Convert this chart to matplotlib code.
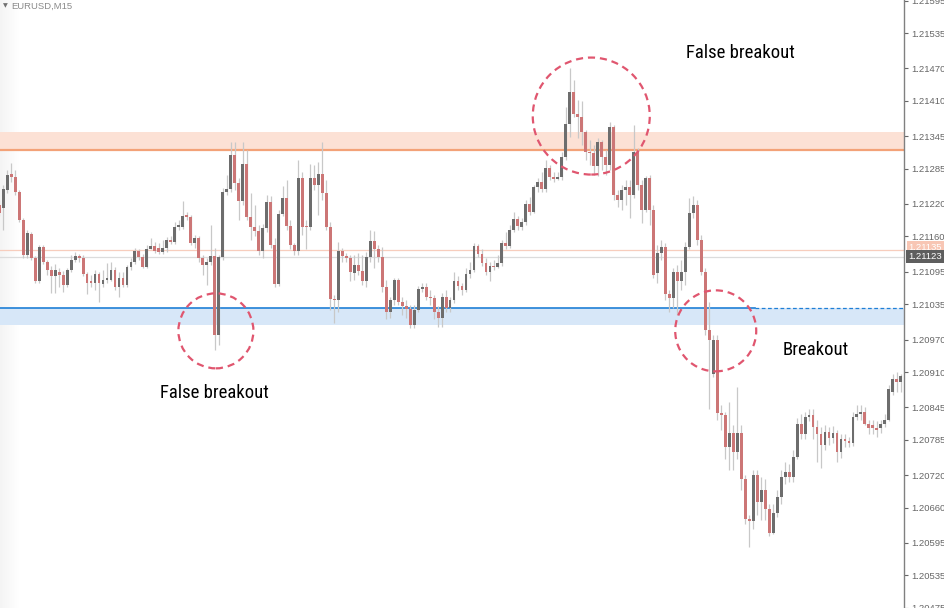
import numpy as np
import matplotlib
matplotlib.use("Agg")
import matplotlib.pyplot as plt
from matplotlib.patches import Circle
from matplotlib.transforms import ScaledTranslation, blended_transform_factory

# EURUSD M15 candles
opens = [
    1.21218, 1.21213, 1.21246, 1.21275, 1.21270, 1.21242, 1.21191, 1.21126, 1.21165, 1.21121,
    1.21078, 1.21141, 1.21113, 1.21099, 1.21088, 1.21095, 1.21089, 1.21071, 1.21099, 1.21117,
    1.21124, 1.21121, 1.21091, 1.21078, 1.21075, 1.21091, 1.21073, 1.21080, 1.21080, 1.21099,
    1.21066, 1.21084, 1.21071, 1.21104, 1.21113, 1.21134, 1.21123, 1.21104, 1.21137, 1.21143,
    1.21139, 1.21132, 1.21139, 1.21154, 1.21150, 1.21178, 1.21178, 1.21200, 1.21196, 1.21148,
    1.21158, 1.21121, 1.21108, 1.21113, 1.21124, 1.20979, 1.21123, 1.21242, 1.21248, 1.21310,
    1.21259, 1.21226, 1.21294, 1.21196, 1.21178, 1.21170, 1.21134, 1.21176, 1.21224, 1.21145,
    1.21073, 1.21202, 1.21231, 1.21180, 1.21145, 1.21134, 1.21268, 1.21180, 1.21178, 1.21268,
    1.21255, 1.21275, 1.21240, 1.21178, 1.21045, 1.21043, 1.21134, 1.21124, 1.21121, 1.21093,
    1.21108, 1.21097, 1.21077, 1.21123, 1.21152, 1.21137, 1.21123, 1.21066, 1.21020, 1.21042,
    1.21080, 1.21040, 1.21032, 1.21027, 1.20997, 1.21025, 1.21064, 1.21067, 1.21049, 1.21047,
    1.21020, 1.21010, 1.21049, 1.21029, 1.21043, 1.21077, 1.21069, 1.21062, 1.21091, 1.21099,
    1.21143, 1.21128, 1.21112, 1.21095, 1.21106, 1.21104, 1.21112, 1.21148, 1.21143, 1.21172,
    1.21193, 1.21178, 1.21187, 1.21220, 1.21206, 1.21252, 1.21261, 1.21248, 1.21287, 1.21270,
    1.21266, 1.21270, 1.21307, 1.21368, 1.21427, 1.21386, 1.21381, 1.21353, 1.21316, 1.21314,
    1.21290, 1.21334, 1.21307, 1.21292, 1.21362, 1.21237, 1.21228, 1.21246, 1.21252, 1.21237,
    1.21316, 1.21255, 1.21209, 1.21268, 1.21209, 1.21093, 1.21130, 1.21141, 1.21054, 1.21047,
    1.21095, 1.21077, 1.21095, 1.21141, 1.21204, 1.21218, 1.21154, 1.21095, 1.20988, 1.20907,
    1.20970, 1.20835, 1.20830, 1.20771, 1.20798, 1.20762, 1.20798, 1.20712, 1.20640, 1.20636,
    1.20721, 1.20670, 1.20693, 1.20657, 1.20614, 1.20651, 1.20679, 1.20717, 1.20725, 1.20717,
    1.20754, 1.20815, 1.20795, 1.20828, 1.20830, 1.20808, 1.20795, 1.20776, 1.20800, 1.20789,
    1.20798, 1.20762, 1.20786, 1.20782, 1.20780, 1.20828, 1.20832, 1.20837, 1.20815, 1.20813,
    1.20806, 1.20806, 1.20815, 1.20822, 1.20874, 1.20898, 1.20891,
]
highs = [
    1.21228, 1.21255, 1.21283, 1.21296, 1.21283, 1.21246, 1.21194, 1.21172, 1.21169, 1.21124,
    1.21145, 1.21145, 1.21117, 1.21106, 1.21110, 1.21102, 1.21097, 1.21102, 1.21126, 1.21132,
    1.21128, 1.21126, 1.21095, 1.21089, 1.21099, 1.21095, 1.21099, 1.21112, 1.21113, 1.21104,
    1.21095, 1.21095, 1.21108, 1.21121, 1.21139, 1.21137, 1.21128, 1.21145, 1.21158, 1.21150,
    1.21148, 1.21154, 1.21159, 1.21161, 1.21187, 1.21191, 1.21226, 1.21206, 1.21200, 1.21163,
    1.21161, 1.21126, 1.21121, 1.21182, 1.21139, 1.21126, 1.21250, 1.21274, 1.21334, 1.21334,
    1.21268, 1.21334, 1.21320, 1.21240, 1.21218, 1.21182, 1.21183, 1.21237, 1.21235, 1.21158,
    1.21209, 1.21253, 1.21264, 1.21191, 1.21148, 1.21301, 1.21279, 1.21191, 1.21294, 1.21292,
    1.21298, 1.21334, 1.21264, 1.21187, 1.21053, 1.21150, 1.21139, 1.21130, 1.21126, 1.21126,
    1.21130, 1.21126, 1.21132, 1.21172, 1.21170, 1.21145, 1.21141, 1.21080, 1.21049, 1.21084,
    1.21084, 1.21049, 1.21043, 1.21034, 1.21034, 1.21069, 1.21075, 1.21075, 1.21062, 1.21053,
    1.21032, 1.21056, 1.21062, 1.21049, 1.21095, 1.21088, 1.21075, 1.21102, 1.21113, 1.21148,
    1.21147, 1.21136, 1.21121, 1.21113, 1.21117, 1.21126, 1.21154, 1.21169, 1.21182, 1.21206,
    1.21198, 1.21194, 1.21228, 1.21233, 1.21255, 1.21268, 1.21279, 1.21301, 1.21292, 1.21279,
    1.21279, 1.21316, 1.21399, 1.21471, 1.21449, 1.21412, 1.21410, 1.21357, 1.21338, 1.21329,
    1.21342, 1.21338, 1.21320, 1.21371, 1.21366, 1.21246, 1.21255, 1.21264, 1.21264, 1.21366,
    1.21323, 1.21264, 1.21272, 1.21274, 1.21218, 1.21145, 1.21154, 1.21148, 1.21062, 1.21102,
    1.21108, 1.21117, 1.21150, 1.21231, 1.21235, 1.21228, 1.21163, 1.21102, 1.21040, 1.20979,
    1.20979, 1.20850, 1.20837, 1.20854, 1.20813, 1.20883, 1.20813, 1.20721, 1.20647, 1.20730,
    1.20730, 1.20716, 1.20712, 1.20666, 1.20666, 1.20693, 1.20730, 1.20745, 1.20740, 1.20767,
    1.20826, 1.20832, 1.20837, 1.20841, 1.20841, 1.20822, 1.20808, 1.20813, 1.20808, 1.20811,
    1.20804, 1.20795, 1.20795, 1.20791, 1.20837, 1.20850, 1.20850, 1.20845, 1.20822, 1.20822,
    1.20819, 1.20822, 1.20832, 1.20887, 1.20907, 1.20911, 1.20907,
]
lows = [
    1.21198, 1.21172, 1.21240, 1.21261, 1.21237, 1.21187, 1.21121, 1.21121, 1.21117, 1.21075,
    1.21075, 1.21110, 1.21089, 1.21056, 1.21056, 1.21066, 1.21058, 1.21067, 1.21095, 1.21113,
    1.21113, 1.21088, 1.21054, 1.21066, 1.21062, 1.21040, 1.21067, 1.21075, 1.21077, 1.21062,
    1.21049, 1.21067, 1.21067, 1.21099, 1.21110, 1.21117, 1.21102, 1.21102, 1.21136, 1.21130,
    1.21128, 1.21128, 1.21132, 1.21147, 1.21147, 1.21172, 1.21174, 1.21191, 1.21145, 1.21139,
    1.21113, 1.21089, 1.21071, 1.21108, 1.20951, 1.20960, 1.21117, 1.21237, 1.21242, 1.21246,
    1.21191, 1.21218, 1.21191, 1.21154, 1.21161, 1.21126, 1.21121, 1.21169, 1.21139, 1.21067,
    1.21069, 1.21198, 1.21172, 1.21136, 1.21126, 1.21126, 1.21163, 1.21136, 1.21172, 1.21246,
    1.21200, 1.21228, 1.21172, 1.21025, 1.21001, 1.21021, 1.21113, 1.21113, 1.21077, 1.21080,
    1.21089, 1.21071, 1.21067, 1.21113, 1.21102, 1.21113, 1.21058, 1.21007, 1.21010, 1.21034,
    1.21034, 1.21016, 1.21010, 1.20992, 1.20992, 1.21021, 1.21058, 1.21043, 1.21034, 1.21007,
    1.20994, 1.20994, 1.21021, 1.21021, 1.21038, 1.21062, 1.21053, 1.21058, 1.21084, 1.21095,
    1.21123, 1.21106, 1.21089, 1.21077, 1.21099, 1.21102, 1.21106, 1.21136, 1.21139, 1.21169,
    1.21172, 1.21172, 1.21182, 1.21200, 1.21204, 1.21242, 1.21242, 1.21242, 1.21264, 1.21261,
    1.21264, 1.21264, 1.21301, 1.21344, 1.21381, 1.21342, 1.21329, 1.21301, 1.21292, 1.21274,
    1.21272, 1.21283, 1.21274, 1.21283, 1.21228, 1.21215, 1.21209, 1.21218, 1.21194, 1.21231,
    1.21246, 1.21185, 1.21206, 1.21182, 1.21084, 1.21075, 1.21117, 1.21043, 1.21021, 1.21029,
    1.21016, 1.21062, 1.21071, 1.21136, 1.21194, 1.21145, 1.21089, 1.20979, 1.20841, 1.20900,
    1.20822, 1.20804, 1.20749, 1.20730, 1.20730, 1.20749, 1.20693, 1.20629, 1.20587, 1.20620,
    1.20647, 1.20638, 1.20638, 1.20607, 1.20611, 1.20642, 1.20666, 1.20703, 1.20708, 1.20708,
    1.20749, 1.20786, 1.20786, 1.20819, 1.20786, 1.20745, 1.20734, 1.20767, 1.20776, 1.20780,
    1.20745, 1.20752, 1.20771, 1.20771, 1.20773, 1.20822, 1.20822, 1.20812, 1.20795, 1.20795,
    1.20791, 1.20797, 1.20808, 1.20819, 1.20868, 1.20874, 1.20874,
]
closes = [
    1.21204, 1.21248, 1.21274, 1.21270, 1.21242, 1.21191, 1.21126, 1.21167, 1.21121, 1.21078,
    1.21141, 1.21113, 1.21099, 1.21088, 1.21099, 1.21089, 1.21071, 1.21099, 1.21117, 1.21124,
    1.21121, 1.21091, 1.21075, 1.21075, 1.21091, 1.21075, 1.21080, 1.21084, 1.21099, 1.21066,
    1.21084, 1.21071, 1.21104, 1.21113, 1.21134, 1.21123, 1.21104, 1.21137, 1.21143, 1.21134,
    1.21132, 1.21139, 1.21154, 1.21150, 1.21178, 1.21182, 1.21198, 1.21196, 1.21148, 1.21158,
    1.21121, 1.21108, 1.21113, 1.21124, 1.20979, 1.21123, 1.21242, 1.21248, 1.21310, 1.21259,
    1.21226, 1.21294, 1.21196, 1.21178, 1.21170, 1.21134, 1.21176, 1.21224, 1.21145, 1.21073,
    1.21202, 1.21231, 1.21180, 1.21145, 1.21134, 1.21268, 1.21178, 1.21178, 1.21268, 1.21255,
    1.21275, 1.21240, 1.21178, 1.21045, 1.21043, 1.21134, 1.21124, 1.21121, 1.21095, 1.21108,
    1.21097, 1.21077, 1.21123, 1.21152, 1.21137, 1.21123, 1.21066, 1.21020, 1.21042, 1.21080,
    1.21040, 1.21032, 1.21027, 1.20997, 1.21025, 1.21064, 1.21067, 1.21049, 1.21047, 1.21020,
    1.21010, 1.21049, 1.21029, 1.21043, 1.21077, 1.21069, 1.21062, 1.21091, 1.21099, 1.21143,
    1.21128, 1.21112, 1.21095, 1.21106, 1.21104, 1.21112, 1.21148, 1.21143, 1.21172, 1.21193,
    1.21180, 1.21187, 1.21220, 1.21206, 1.21252, 1.21261, 1.21248, 1.21287, 1.21270, 1.21266,
    1.21270, 1.21307, 1.21368, 1.21427, 1.21386, 1.21381, 1.21353, 1.21316, 1.21314, 1.21290,
    1.21334, 1.21307, 1.21292, 1.21362, 1.21237, 1.21228, 1.21246, 1.21252, 1.21237, 1.21316,
    1.21255, 1.21209, 1.21268, 1.21209, 1.21089, 1.21130, 1.21141, 1.21054, 1.21047, 1.21095,
    1.21077, 1.21095, 1.21141, 1.21204, 1.21218, 1.21154, 1.21095, 1.20988, 1.20970, 1.20970,
    1.20835, 1.20830, 1.20771, 1.20798, 1.20762, 1.20798, 1.20712, 1.20640, 1.20636, 1.20721,
    1.20670, 1.20693, 1.20657, 1.20614, 1.20651, 1.20679, 1.20717, 1.20725, 1.20717, 1.20754,
    1.20815, 1.20795, 1.20828, 1.20830, 1.20808, 1.20795, 1.20776, 1.20800, 1.20789, 1.20798,
    1.20762, 1.20786, 1.20782, 1.20780, 1.20828, 1.20832, 1.20837, 1.20815, 1.20806, 1.20806,
    1.20804, 1.20815, 1.20822, 1.20878, 1.20898, 1.20891, 1.20902,
]

# levels drawn on the chart
resistance = 1.21320
resistance_top = 1.21352
support = 1.21029
support_bottom = 1.20997
level_line = 1.21135
bid = 1.21123

tick_values = [1.21595, 1.21535, 1.21470, 1.21410, 1.21345, 1.21285, 1.21220, 1.21160,
               1.21095, 1.21035, 1.20970, 1.20910, 1.20845, 1.20785, 1.20720, 1.20660,
               1.20595, 1.20535, 1.20475]

# annotations: (candle index, price, radius in inches)
circles = [(54.3, 1.20986, 0.375), (148.4, 1.21382, 0.585), (179.6, 1.20986, 0.405)]
labels = [("False breakout", 53.9, 1.20871), ("False breakout", 185.8, 1.21498),
          ("Breakout", 204.8, 1.20950)]

o = np.array(opens)
h = np.array(highs)
l = np.array(lows)
c = np.array(closes)
x = np.arange(len(o))

fig = plt.figure(figsize=(9.44, 6.08), dpi=100)
ax = fig.add_axes([0, 0, 904 / 944, 1])
ax.set_facecolor("white")

# soft shadow on the left edge
grad = np.linspace(0.955, 1.0, 60).reshape(1, -1)
ax.imshow(grad, extent=[0, 0.022, 0, 1], transform=ax.transAxes, aspect="auto",
          cmap="gray", vmin=0, vmax=1, zorder=0)

# zones and lines
ax.axhspan(resistance, resistance_top, color="#fce1d5", lw=0, zorder=1)
ax.axhline(resistance, color="#f3a278", lw=1.6, zorder=2)
ax.axhspan(support_bottom, support, color="#d7e7f8", lw=0, zorder=1)
ax.axhline(support, xmin=0, xmax=0.835, color="#1f7fd6", lw=1.2, zorder=2)
ax.axhline(support, xmin=0.835, xmax=1, color="#1f7fd6", lw=0.9, ls=(0, (3, 2)), zorder=2)
ax.axhline(level_line, color="#f7cdbd", lw=0.9, zorder=2)
ax.axhline(bid, color="#dcdcdc", lw=0.9, zorder=2)

# candles
up = c >= o
body_col = np.where(up, "#6d6d6d", "#cc7676")
ax.vlines(x, l, h, color="#c8c8c8", lw=0.9, zorder=3)
ax.bar(x, np.maximum(np.abs(c - o), 0.000018), bottom=np.minimum(o, c), width=0.72,
       color=body_col, lw=0, zorder=4)

ax.set_xlim(0.175, 226.8)
ax.set_ylim(1.204761, 1.215960)

# right price scale
ax.yaxis.tick_right()
ax.set_yticks(tick_values)
ax.set_yticklabels([f"{v:.5f}" for v in tick_values], family="Liberation Sans")
ax.tick_params(axis="y", labelsize=6.8, colors="#666666", length=3, width=0.8, pad=2)
ax.tick_params(axis="x", bottom=False, labelbottom=False)
for s in ["left", "top", "bottom"]:
    ax.spines[s].set_visible(False)
ax.spines["right"].set_color("#808080")
ax.spines["right"].set_linewidth(1)

# price tags on the scale
tr = blended_transform_factory(ax.transAxes, ax.transData)
ax.text(1.005, level_line + 0.00004, "1.21135", transform=tr, ha="left", va="center",
        fontsize=6.8, family="Liberation Sans", color="white", clip_on=False, zorder=6,
        bbox=dict(boxstyle="square,pad=0.2", fc="#f8c6b4", ec="none"))
ax.text(1.005, bid, "1.21123", transform=tr, ha="left", va="center",
        fontsize=6.8, family="Liberation Sans", color="white", clip_on=False, zorder=7,
        bbox=dict(boxstyle="square,pad=0.25", fc="#5e5e5e", ec="none"))

# dashed circles, round in pixels
for cx, cy, r in circles:
    off = ScaledTranslation(cx, cy, ax.transData)
    ax.add_patch(Circle((0, 0), r, transform=fig.dpi_scale_trans + off, fill=False,
                        ec="#e0566f", lw=1.6, ls=(0, (3.2, 2.2)), zorder=5))

for txt, tx, ty in labels:
    ax.text(tx, ty, txt, ha="center", va="center", fontsize=13.5, color="black",
            family=["Roboto Condensed", "Liberation Sans Narrow", "Lato", "DejaVu Sans"],
            zorder=6)

fig.text(3 / 944, 1 - 6 / 608, "\u25bc", fontsize=4.5, color="#707070", va="center")
fig.text(11 / 944, 1 - 6 / 608, "EURUSD,M15", fontsize=6.8, family="Liberation Sans",
         color="#8a8a8a", va="center")

fig.savefig("out.png", dpi=100)
